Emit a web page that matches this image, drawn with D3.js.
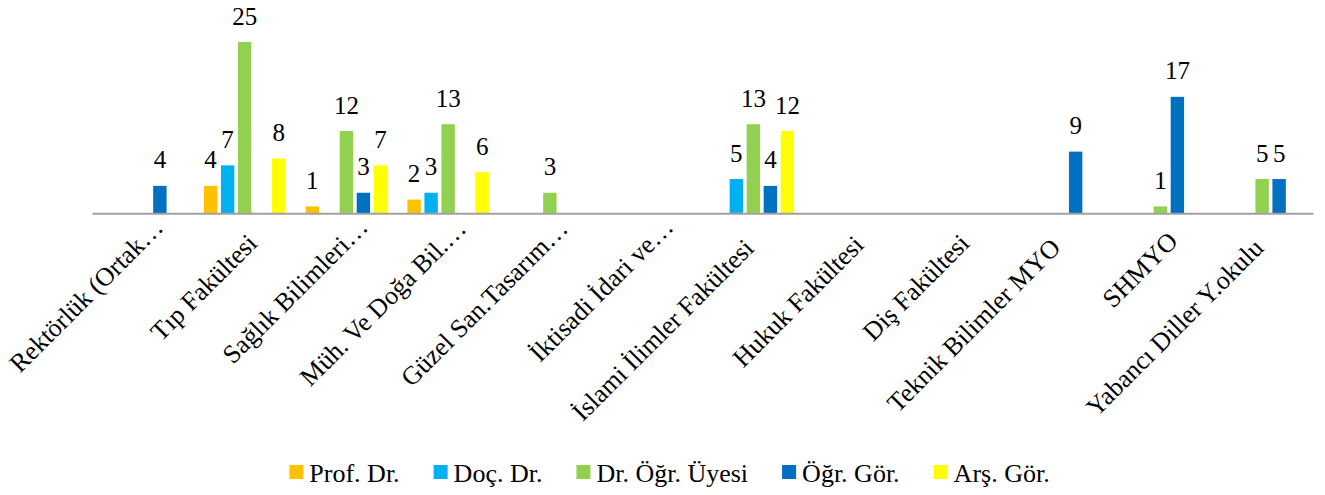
<!DOCTYPE html>
<html>
<head>
<meta charset="utf-8">
<script src="https://cdn.jsdelivr.net/npm/d3@7"></script>
<style>
  html, body { margin: 0; padding: 0; background: #fff; }
  svg { display: block; }
</style>
</head>
<body>
<script>
// ---- data ----
const categories = [
  "Rektörlük (Ortak…", "Tıp Fakültesi", "Sağlık Bilimleri…", "Müh. Ve Doğa Bil.…",
  "Güzel San.Tasarım…", "İktisadi İdari ve…", "İslami İlimler Fakültesi", "Hukuk Fakültesi",
  "Diş Fakültesi", "Teknik Bilimler MYO", "SHMYO", "Yabancı Diller Y.okulu"
];
const seriesNames = ["Prof. Dr.", "Doç. Dr.", "Dr. Öğr. Üyesi", "Öğr. Gör.", "Arş. Gör."];
const profDr   = [null, 4, 1, 2, null, null, null, null, null, null, null, null];
const docDr    = [null, 7, null, 3, null, null, 5, null, null, null, null, null];
const drOgrUye = [null, 25, 12, 13, 3, null, 13, null, null, null, 1, 5];
const ogrGor   = [4, null, 3, null, null, null, 4, null, null, 9, 17, 5];
const arsGor   = [null, 8, 7, 6, null, null, 12, null, null, null, null, null];
const seriesValues = [profDr, docDr, drOgrUye, ogrGor, arsGor];
const colors = ["#FFC000", "#00B0F0", "#92D050", "#0070C0", "#FFFF00"];

// ---- layout ----
const FONT = "'Liberation Serif', 'Times New Roman', serif";
const W = 1325, H = 495;
const svg = d3.select("body").append("svg").attr("width", W).attr("height", H);

const x0 = d3.scaleBand().domain(categories).range([92, 1313]).paddingInner(0.2).paddingOuter(0.1);
const x1 = d3.scaleBand().domain(d3.range(seriesNames.length)).range([0, x0.bandwidth()]).paddingInner(0.212).paddingOuter(0);
const y = d3.scaleLinear().domain([0, 25]).range([213.3, 42]);

const rows = [];
seriesValues.forEach((vals, si) => {
  vals.forEach((v, ci) => {
    if (v !== null) rows.push({ s: si, c: categories[ci], v: v });
  });
});

// bars
svg.append("g").selectAll("rect").data(rows).join("rect")
  .attr("x", d => x0(d.c) + x1(d.s))
  .attr("width", x1.bandwidth())
  .attr("y", d => y(d.v))
  .attr("height", d => y(0) - y(d.v))
  .attr("fill", d => colors[d.s]);

// baseline axis
const axis = d3.axisBottom(x0).tickSize(0).tickFormat("");
const gAxis = svg.append("g").attr("transform", `translate(0,${y(0)})`).call(axis);
gAxis.select(".domain").attr("stroke", "#a0a0a0").attr("stroke-width", 2);

// value labels
svg.append("g").selectAll("text").data(rows).join("text")
  .attr("x", d => x0(d.c) + x1(d.s) + x1.bandwidth() / 2)
  .attr("y", d => y(d.v) - 17.5)
  .attr("text-anchor", "middle")
  .attr("font-family", FONT)
  .attr("font-size", 25)
  .attr("fill", "#000")
  .text(d => d.v);

// category labels (rotated, end-anchored; long labels sit slightly lower-left as in the original)
const catLabels = svg.append("g").selectAll("text").data(categories).join("text")
  .attr("text-anchor", "end")
  .attr("font-family", FONT)
  .attr("font-size", 26)
  .attr("fill", "#000")
  .text(d => d);
catLabels.each(function (d) {
  const L = this.getComputedTextLength();
  const trunc = d.endsWith("…");
  const ex = x0(d) + x0.bandwidth() / 2 + 14 - 0.113 * (L - 138);
  const ey = y(0) + 31.5 + 0.047 * (L - 138);
  d3.select(this)
    .attr("transform", `translate(${ex},${ey}) rotate(-45)`)
    .attr("dx", trunc ? 24 : 0)
    .attr("dy", trunc ? -2.5 : 0);
});

// legend
const lg = svg.append("g");
const sq = 14, gapText = 6, gapItem = 34;
const items = lg.selectAll("g").data(seriesNames).join("g");
items.append("rect").attr("width", sq).attr("height", sq).attr("y", 465)
  .attr("fill", (d, i) => colors[i]);
items.append("text").attr("x", sq + gapText).attr("y", 482)
  .attr("font-family", FONT).attr("font-size", 26).attr("fill", "#000").text(d => d);
let widths = [];
items.each(function () { widths.push(d3.select(this).select("text").node().getComputedTextLength()); });
const total = d3.sum(widths, w => sq + gapText + w) + gapItem * (widths.length - 1);
let cx = 669.5 - total / 2;
items.each(function (d, i) {
  d3.select(this).attr("transform", `translate(${cx},0)`);
  cx += sq + gapText + widths[i] + gapItem;
});
</script>
</body>
</html>
